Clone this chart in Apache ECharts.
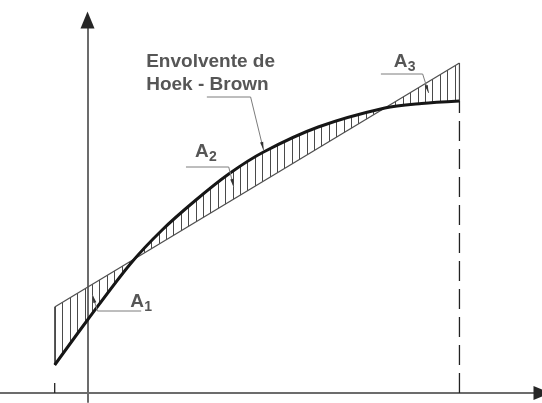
<!DOCTYPE html>
<html>
<head>
<meta charset="utf-8">
<style>
  html, body { margin: 0; padding: 0; background: #fff; }
  #chart { width: 542px; height: 403px; }
</style>
<script src="https://cdn.jsdelivr.net/npm/echarts@6/dist/echarts.min.js"></script>
</head>
<body>
<div id="chart"></div>
<script>
// Normal stress (sigma) and shear stress (tau), drawing units
const envelopeSigma = [-3.3, 0, 4.3, 7.5, 10.9, 14.2, 17.7, 23.2, 29.9, 33.6, 37.4];
const envelopeTau   = [2.8, 7.3, 12.9, 16.3, 19.3, 21.9, 24.1, 26.6, 28.5, 28.95, 29.2];
// Linear (Mohr-Coulomb) fit over the same stress range
const linearSigma = [-3.3, 37.4];
const linearTau   = [8.6, 33.0];
// Annotation texts
const areaNames = ['A', 'A', 'A'];
const areaIndex = ['1', '2', '3'];
const envelopeTitle = ['Envolvente de', 'Hoek - Brown'];

const FONT = '"Liberation Sans", Arial, sans-serif';
const TEXT_COLOR = '#565656';

// Annotation anchors (in sigma/tau units) and their leader lines
const notes = [
  { name: areaNames[0], sub: areaIndex[0], at: [4.3, 9.1],  leader: [[5.4, 8.2], [1.0, 8.2], [0.5, 9.8]] },
  { name: areaNames[1], sub: areaIndex[1], at: [10.8, 24.1], leader: [[9.9, 22.6], [14.2, 22.6], [14.7, 20.6]] },
  { name: areaNames[2], sub: areaIndex[2], at: [30.8, 33.1], leader: [[29.5, 31.9], [33.7, 31.9], [34.3, 30.0]] },
  { lines: envelopeTitle, at: [5.9, 32.0], leader: [[12.0, 29.6], [16.4, 29.6], [17.7, 24.3]] }
];

const envelope = envelopeSigma.map((s, i) => [s, envelopeTau[i]]);
const linear = linearSigma.map((s, i) => [s, linearTau[i]]);
const sFirst = envelopeSigma[0], sLast = envelopeSigma[envelopeSigma.length - 1];

// Vertical hatch tile
function hatchTile() {
  const c = document.createElement('canvas');
  c.width = 37; c.height = 4;
  const g = c.getContext('2d');
  g.fillStyle = '#4a4a4a';
  [3, 11, 18, 25, 33].forEach(x => g.fillRect(x, 0, 1, 4));
  return c;
}
const hatch = { image: hatchTile(), repeat: 'repeat' };

const axisCommon = {
  type: 'value',
  axisTick: { show: false },
  axisLabel: { show: false },
  splitLine: { show: false }
};

const chart = echarts.init(document.getElementById('chart'));
chart.setOption({
  animation: false,
  backgroundColor: '#ffffff',
  grid: { left: 0, right: -3, top: 20, bottom: 1, containLabel: false },
  xAxis: [
    Object.assign({}, axisCommon, {
      min: -8.8, max: 45.7,
      axisLine: { onZero: true, lineStyle: { color: '#6c6c6c', width: 2 } }
    }),
    Object.assign({}, axisCommon, {
      min: -8.8, max: 45.7,
      axisLine: { onZero: true, onZeroAxisIndex: 0, symbol: ['none', 'triangle'], symbolSize: [14, 17],
        lineStyle: { color: '#262626', width: 0 } }
    })
  ],
  yAxis: [
    Object.assign({}, axisCommon, {
      min: -0.9, max: 37.3,
      axisLine: { onZero: true, lineStyle: { color: '#6c6c6c', width: 2 } }
    }),
    Object.assign({}, axisCommon, {
      min: -0.9, max: 37.3,
      axisLine: { onZero: true, onZeroAxisIndex: 0, symbol: ['none', 'triangle'], symbolSize: [14, 17],
        lineStyle: { color: '#262626', width: 0 } }
    })
  ],
  series: [
    {
      // hatched band between the envelope and the linear fit
      type: 'custom',
      z: 1,
      data: [[sFirst, envelopeTau[0]]],
      renderItem: function (params, api) {
        const pts = envelope.map(p => api.coord(p));
        for (let i = linear.length - 1; i >= 0; i--) pts.push(api.coord(linear[i]));
        return { type: 'polygon', shape: { points: pts }, style: { fill: hatch, stroke: null } };
      }
    },
    {
      type: 'line', z: 3, symbol: 'none', data: linear,
      lineStyle: { color: '#4f4f4f', width: 1.3 }
    },
    {
      type: 'line', z: 4, symbol: 'none', smooth: 0.3, data: envelope,
      lineStyle: { color: '#161616', width: 3 }
    },
    {
      // end boundaries of the band
      type: 'line', z: 3, symbol: 'none',
      data: [[sFirst, envelopeTau[0]], [sFirst, linearTau[0]]],
      lineStyle: { color: '#4a4a4a', width: 1.2 }
    },
    {
      type: 'line', z: 3, symbol: 'none',
      data: [[sLast, envelopeTau[envelopeTau.length - 1]], [sLast, linearTau[linearTau.length - 1]]],
      lineStyle: { color: '#4a4a4a', width: 1.2 }
    },
    {
      type: 'line', z: 3, symbol: 'none',
      data: [[sFirst, 0], [sFirst, envelopeTau[0]]],
      lineStyle: { color: '#222', width: 1.3, type: [10, 18] }
    },
    {
      type: 'line', z: 3, symbol: 'none',
      data: [[sLast, 0], [sLast, envelopeTau[envelopeTau.length - 1]]],
      lineStyle: { color: '#222', width: 1.3, type: [20, 8] }
    },
    {
      // labels with leader lines
      type: 'custom',
      z: 5,
      data: notes.map(n => n.at),
      renderItem: function (params, api) {
        const n = notes[params.dataIndex];
        const p = api.coord(n.at);
        const pts = n.leader.map(q => api.coord(q));
        const a = pts[pts.length - 2], b = pts[pts.length - 1];
        const dx = b[0] - a[0], dy = b[1] - a[1];
        const L = Math.hypot(dx, dy), ux = dx / L, uy = dy / L;
        const len = 8, hw = 1.6;
        const children = [
          { type: 'polyline', shape: { points: pts }, style: { stroke: '#7c7c7c', lineWidth: 1, fill: 'none' } },
          { type: 'polygon', shape: { points: [
              b,
              [b[0] - ux * len - uy * hw, b[1] - uy * len + ux * hw],
              [b[0] - ux * len + uy * hw, b[1] - uy * len - ux * hw]
            ] }, style: { fill: '#333' } }
        ];
        if (n.sub) {
          children.push({ type: 'text', style: { text: n.name, x: p[0], y: p[1],
            font: 'bold 19px ' + FONT, fill: TEXT_COLOR, align: 'left', verticalAlign: 'middle' } });
          children.push({ type: 'text', style: { text: n.sub, x: p[0] + 14, y: p[1] + 5,
            font: 'bold 14px ' + FONT, fill: TEXT_COLOR, align: 'left', verticalAlign: 'middle' } });
        } else {
          children.push({ type: 'text', style: { text: n.lines.join('\n'), x: p[0], y: p[1],
            font: 'bold 19px ' + FONT, fill: TEXT_COLOR, align: 'left', verticalAlign: 'middle', lineHeight: 23 } });
        }
        return { type: 'group', children: children };
      }
    }
  ]
});
</script>
</body>
</html>
